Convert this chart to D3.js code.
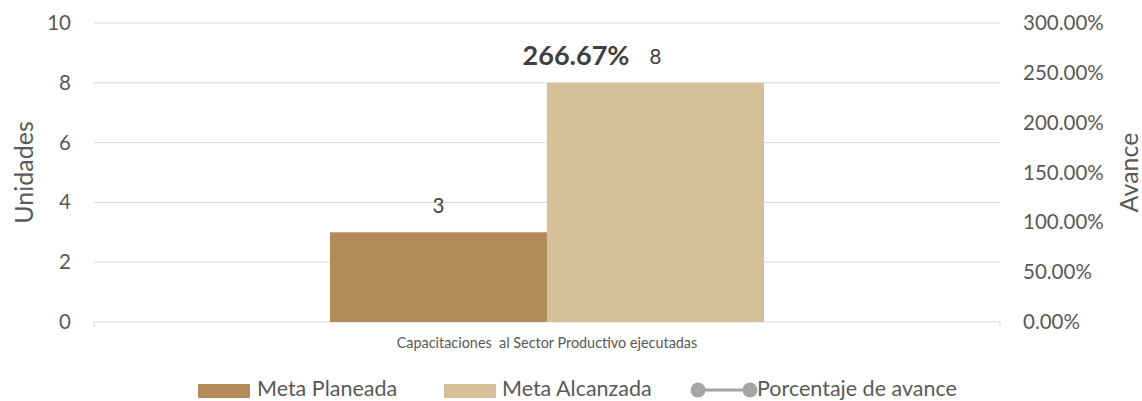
<!DOCTYPE html>
<html>
<head>
<meta charset="utf-8">
<script src="https://cdn.jsdelivr.net/npm/d3@7"></script>
<style>
  html, body { margin: 0; padding: 0; background: #fff; }
  svg text { font-family: Lato, "Open Sans", sans-serif; white-space: pre; }
</style>
</head>
<body>
<svg id="chart" width="1142" height="401"></svg>
<script>
const categories = ["Capacitaciones  al Sector Productivo ejecutadas"];
const seriesNames = ["Meta Planeada", "Meta Alcanzada"];
const metaPlaneada = [3];
const metaAlcanzada = [8];
const porcentajeAvance = [2.6667];
const leftTicks = [0, 2, 4, 6, 8, 10];
const rightTicks = [0, 0.5, 1, 1.5, 2, 2.5, 3];
const lineName = "Porcentaje de avance";

const colors = { planeada: "#B28B5A", alcanzada: "#D5C09A", line: "#A5A5A5" };

const svg = d3.select("#chart");
const m = { left: 94, right: 1000, top: 23, bottom: 322 };

const x0 = d3.scaleBand().domain(categories).range([m.left, m.right]).paddingInner(0).paddingOuter(0);
const innerPad = (906 - 434) / 2;
const x1 = d3.scaleBand().domain(seriesNames).range([0, 434]);
const yL = d3.scaleLinear().domain([0, 10]).range([m.bottom, m.top]);
const yR = d3.scaleLinear().domain([0, 3]).range([m.bottom, m.top]);

// gridlines
svg.append("g")
  .selectAll("line").data(leftTicks.filter(d => d > 0)).join("line")
  .attr("x1", m.left).attr("x2", m.right)
  .attr("y1", d => yL(d)).attr("y2", d => yL(d))
  .attr("stroke", "#D9D9D9").attr("stroke-width", 1);

// left axis
const axL = d3.axisLeft(yL).tickValues(leftTicks).tickSize(0).tickPadding(23).tickFormat(d3.format("d"));
const gL = svg.append("g").attr("transform", `translate(${m.left},0)`).call(axL);
gL.select(".domain").remove();
gL.selectAll("text").attr("fill", "#595959").style("font-size", "20.5px");

// right axis
const axR = d3.axisRight(yR).tickValues(rightTicks).tickSize(0).tickPadding(23).tickFormat(d3.format(".2%"));
const gR = svg.append("g").attr("transform", `translate(${m.right},0)`).call(axR);
gR.select(".domain").remove();
gR.selectAll("text").attr("fill", "#595959").style("font-size", "20.5px");

// bottom axis line
svg.append("line")
  .attr("x1", m.left).attr("x2", m.right).attr("y1", yL(0)).attr("y2", yL(0))
  .attr("stroke", "#D9D9D9").attr("stroke-width", 1);
svg.append("g").selectAll("line").data([m.left, m.right]).join("line")
  .attr("x1", d => d).attr("x2", d => d).attr("y1", yL(0)).attr("y2", yL(0) + 5)
  .attr("stroke", "#D9D9D9");

// bars
const rows = categories.map((c, i) => ({ cat: c, vals: [
  { name: seriesNames[0], v: metaPlaneada[i], color: colors.planeada },
  { name: seriesNames[1], v: metaAlcanzada[i], color: colors.alcanzada }
], pct: porcentajeAvance[i] }));

const gCat = svg.append("g").selectAll("g").data(rows).join("g")
  .attr("transform", d => `translate(${x0(d.cat) + innerPad},0)`);

gCat.selectAll("rect").data(d => d.vals).join("rect")
  .attr("x", d => x1(d.name)).attr("width", x1.bandwidth())
  .attr("y", d => yL(d.v)).attr("height", d => yL(0) - yL(d.v))
  .attr("fill", d => d.color);

gCat.selectAll("text.val").data(d => d.vals).join("text")
  .attr("class", "val")
  .attr("x", d => x1(d.name) + x1.bandwidth() / 2)
  .attr("y", d => yL(d.v) - 19)
  .attr("text-anchor", "middle")
  .attr("fill", "#404040").style("font-size", "20.5px")
  .text(d => d3.format("d")(d.v));

// percentage label (line point)
svg.append("g").selectAll("text").data(rows).join("text")
  .attr("x", d => x0(d.cat) + x0.bandwidth() / 2 + 29)
  .attr("y", d => yR(d.pct) + 9)
  .attr("text-anchor", "middle")
  .attr("fill", "#404040").style("font-size", "27px").style("font-weight", "bold")
  .text(d => d3.format(".2%")(d.pct));

// category labels
svg.append("g").selectAll("text").data(categories).join("text")
  .attr("x", d => x0(d) + x0.bandwidth() / 2)
  .attr("y", 348)
  .attr("text-anchor", "middle")
  .attr("fill", "#595959").style("font-size", "14.4px")
  .text(d => d);

// axis titles
svg.append("text").attr("transform", `translate(33,${(m.top + m.bottom) / 2}) rotate(-90)`)
  .attr("text-anchor", "middle").attr("fill", "#595959").style("font-size", "25px").text("Unidades");
svg.append("text").attr("transform", `translate(1138,${(m.top + m.bottom) / 2}) rotate(-90)`)
  .attr("text-anchor", "middle").attr("fill", "#595959").style("font-size", "25px").text("Avance");

// legend
const lg = svg.append("g");
const legendItems = [
  { name: seriesNames[0], type: "rect", color: colors.planeada, x: 198, tx: 257 },
  { name: seriesNames[1], type: "rect", color: colors.alcanzada, x: 444, tx: 502 },
  { name: lineName, type: "line", color: colors.line, x: 698, tx: 757 }
];
legendItems.forEach(it => {
  if (it.type === "rect") {
    lg.append("rect").attr("x", it.x).attr("y", 384).attr("width", 52).attr("height", 14).attr("fill", it.color);
  } else {
    lg.append("line").attr("x1", it.x).attr("x2", it.x + 52).attr("y1", 390).attr("y2", 390)
      .attr("stroke", it.color).attr("stroke-width", 3);
    lg.selectAll(null).data([it.x, it.x + 52]).enter().append("circle")
      .attr("cx", d => d).attr("cy", 390).attr("r", 7.5).attr("fill", it.color);
  }
  lg.append("text").attr("x", it.tx).attr("y", 396).attr("fill", "#595959").style("font-size", "21.5px").text(it.name);
});
</script>
</body>
</html>
